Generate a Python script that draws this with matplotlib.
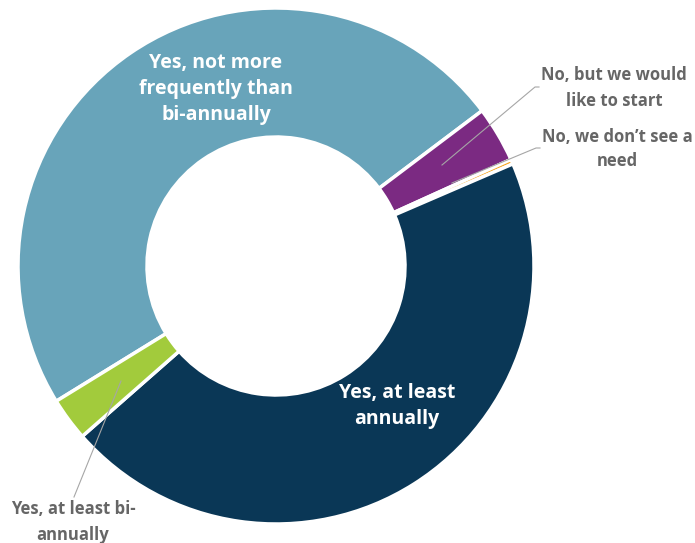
import matplotlib
matplotlib.use('Agg')

import matplotlib.pyplot as plt

labels = ['Yes, not more frequently than bi-annually', 'No, but we would like to start',
          "No, we don\u2019t see a need", 'Yes, at least annually', 'Yes, at least bi-annually']
sizes = [48.5, 3.5, 0.3, 45.0, 2.7]
colors = ['#68A4BA', '#7B2A82', '#F5A623', '#0A3756', '#A2CB3C']

# pixel helpers: chart center (276, 266), radius 258 px
CX, CY, R = 276, 266, 258


def px(x, y):
    return ((x - CX) / R, (CY - y) / R)


fig = plt.figure(figsize=(6.95, 5.43), dpi=100)
ax = fig.add_axes([18 / 695, 19 / 543, 516 / 695, 516 / 543])

ax.pie(sizes, colors=colors, startangle=211.6, counterclock=False, radius=1.0,
       wedgeprops=dict(width=0.5, edgecolor='white', linewidth=2.5))
ax.set_xlim(-1, 1)
ax.set_ylim(-1, 1)
ax.set_aspect('equal')
ax.axis('off')

font = dict(family='Open Sans', weight='bold')

# labels inside the ring
ax.text(*px(216, 89), 'Yes, not more\nfrequently than\nbi-annually', color='white',
        ha='center', va='center', fontsize=14, linespacing=1.4, **font)
ax.text(*px(397, 406), 'Yes, at least\nannually', color='white',
        ha='center', va='center', fontsize=14, linespacing=1.4, **font)

# outside labels
gray = '#666666'
lc = '#A6A6A6'
ax.text(*px(614, 88), 'No, but we would\nlike to start', ha='center', va='center',
        color=gray, fontsize=12, linespacing=1.5, **font)
ax.text(*px(617, 149), 'No, we don\u2019t see a\nneed', ha='center', va='center',
        color=gray, fontsize=12, linespacing=1.5, **font)
ax.text(*px(73, 522), 'Yes, at least bi-\nannually', ha='center', va='center',
        color=gray, fontsize=12, linespacing=1.5, clip_on=False, **font)

# leader lines
leaders = [
    [(442, 165), (535, 87), (539, 87)],
    [(452, 183), (536, 148), (540, 148)],
    [(121, 381), (74, 497)],
]
for pts in leaders:
    xs, ys = zip(*[px(x, y) for x, y in pts])
    ax.plot(xs, ys, color=lc, lw=0.8, clip_on=False)

fig.savefig('out.png', dpi=100)
